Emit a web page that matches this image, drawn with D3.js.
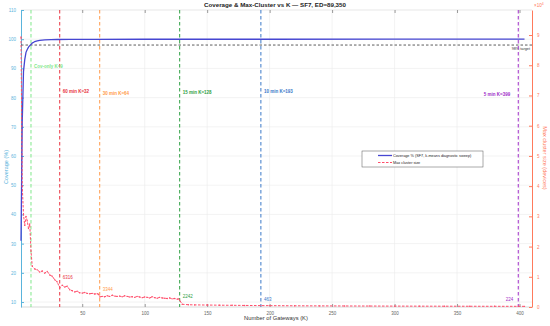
<!DOCTYPE html>
<html>
<head>
<meta charset="utf-8">
<script src="https://cdn.jsdelivr.net/npm/d3@7"></script>
<style>
  body { margin: 0; background: #fff; }
  svg { font-family: "Liberation Sans", Arial, sans-serif; }
</style>
</head>
<body>
<svg id="chart" width="550" height="326"></svg>
<script>
// coverage sweep (K, %)
var covK   = [1, 2, 3, 4, 5, 6, 7, 8, 9, 10, 11, 12, 14, 16, 18, 20, 25, 30, 40, 60, 100, 150, 200, 300, 404];
var covVal = [31, 72, 89, 93, 95.5, 96.5, 97.3, 97.8, 98.2, 98.7, 98.9, 99.2, 99.4, 99.6, 99.7, 99.75, 99.85, 99.9, 99.93, 99.96, 99.98, 99.99, 99.99, 100, 100];

// max cluster size (devices)
var maxK = [1, 2, 3, 4, 5, 6, 7, 8, 9, 10, 12, 14, 16, 18, 20, 22, 24, 26, 28, 30, 32, 34, 36, 38, 40,
            42, 44, 46, 48, 50, 52, 54, 56, 58, 60, 62, 63, 64, 66, 68, 70, 72, 74, 76, 78, 80,
            82, 84, 86, 88, 90, 92, 94, 96, 98, 100, 102, 104, 106, 108, 110, 112, 114, 116, 118,
            120, 122, 124, 126, 127, 128, 130, 135, 140, 150, 160, 170, 180, 193, 200, 220, 240,
            260, 280, 300, 320, 340, 360, 380, 399, 404];
var maxVal = [89350, 40000, 30500, 27000, 30000, 28500, 26000, 27500, 18500, 13500, 12600, 12300, 11600, 11900, 11200, 11800, 10600, 10200, 9000, 8300, 6316, 7200, 6600, 6900, 5700,
              5400, 5000, 5200, 4700, 4600, 4800, 4500, 4400, 4500, 4300, 4400, 4200, 3344, 3500, 3400, 3700, 3500, 3900, 3600, 3500, 3600,
              3400, 3700, 3500, 3300, 3400, 3200, 3500, 3300, 3100, 3300, 3200, 3000, 3400, 3100, 2900, 3200, 3000, 2900, 2800,
              3000, 2700, 2800, 2600, 2700, 2242, 900, 750, 700, 650, 600, 560, 520, 463, 450, 400, 370,
              340, 320, 300, 280, 265, 250, 235, 224, 220];

// operating points (vertical markers)
var markK     = [9, 32, 64, 128, 193, 399];
var markName  = ["Cov-only K=9", "60 min K=32", "30 min K=64", "15 min K=128", "10 min K=193", "5 min K=399"];
var markSize  = [null, 6316, 3344, 2242, 463, 224];
var markColor = ["#7fe88a", "#e8323f", "#ff9a4a", "#2ea043", "#3a78c8", "#a02ec8"];

var xTicks  = [50, 100, 150, 200, 250, 300, 350, 400];
var yTicks  = [10, 20, 30, 40, 50, 60, 70, 80, 90, 100, 110];
var y2Ticks = [0, 1, 2, 3, 4, 5, 6, 7, 8, 9];

var svg = d3.select("#chart");
var L = 21, R = 532, T = 10, B = 307;

var x  = d3.scaleLinear().domain([1, 410]).range([L, R]);
var y  = d3.scaleLinear().domain([8.3, 110]).range([B, T]);
var y2 = d3.scaleLinear().domain([0, 89350 * 1.1]).range([B, T]);

var blueAx = "#5ab4dc", redAx = "#ff7a5c";

// grid
svg.append("g").selectAll("line").data(xTicks).enter().append("line")
  .attr("x1", function(d) { return x(d); }).attr("x2", function(d) { return x(d); })
  .attr("y1", T).attr("y2", B).attr("stroke", "#ebebeb").attr("stroke-width", 0.6);
svg.append("g").selectAll("line").data(yTicks).enter().append("line")
  .attr("x1", L).attr("x2", R)
  .attr("y1", function(d) { return y(d); }).attr("y2", function(d) { return y(d); })
  .attr("stroke", "#ebebeb").attr("stroke-width", 0.6);

// frame top/bottom
svg.append("line").attr("x1", L).attr("x2", R).attr("y1", T).attr("y2", T).attr("stroke", "#e4e4e4").attr("stroke-width", 0.6);
svg.append("line").attr("x1", L).attr("x2", R).attr("y1", B).attr("y2", B).attr("stroke", "#bdbdbd").attr("stroke-width", 0.6);

// axes
var xAx = svg.append("g").attr("transform", "translate(0," + B + ")")
  .call(d3.axisBottom(x).tickValues(xTicks).tickSizeInner(-3).tickSizeOuter(0).tickPadding(5));
xAx.select(".domain").remove();
xAx.selectAll("line").attr("stroke", "#999");
xAx.selectAll("text").attr("fill", "#666").attr("font-size", 4.5);

var xTop = svg.append("g").attr("transform", "translate(0," + T + ")")
  .call(d3.axisTop(x).tickValues(xTicks).tickSizeInner(-3).tickSizeOuter(0).tickFormat(""));
xTop.select(".domain").remove();
xTop.selectAll("line").attr("stroke", "#999");

var yAx = svg.append("g").attr("transform", "translate(" + L + ",0)")
  .call(d3.axisLeft(y).tickValues(yTicks).tickSizeInner(-3).tickSizeOuter(0).tickPadding(5));
yAx.select(".domain").attr("stroke", blueAx);
yAx.selectAll("line").attr("stroke", blueAx);
yAx.selectAll("text").attr("fill", blueAx).attr("font-size", 4.5);

var y2Ax = svg.append("g").attr("transform", "translate(" + R + ",0)")
  .call(d3.axisRight(y2).tickValues(y2Ticks.map(function(d) { return d * 1e4; }))
    .tickFormat(function(d) { return d / 1e4; }).tickSizeInner(-3).tickSizeOuter(0).tickPadding(5));
y2Ax.select(".domain").attr("stroke", redAx);
y2Ax.selectAll("line").attr("stroke", redAx);
y2Ax.selectAll("text").attr("fill", redAx).attr("font-size", 4.5);

svg.append("text").attr("x", 534).attr("y", 7).attr("fill", redAx).attr("font-size", 4.5)
  .html("\u00d710<tspan dy='-2' font-size='3.5'>4</tspan>");

// 98% target
svg.append("line").attr("x1", L).attr("x2", R).attr("y1", y(98)).attr("y2", y(98))
  .attr("stroke", "#333").attr("stroke-width", 0.8).attr("stroke-dasharray", "2.5,2");
svg.append("text").attr("x", 530).attr("y", y(98) + 5).attr("text-anchor", "end")
  .attr("font-size", 3.8).attr("fill", "#333").text("98% target");

// vertical markers
svg.append("g").selectAll("line").data(markK).enter().append("line")
  .attr("x1", function(d) { return x(d); }).attr("x2", function(d) { return x(d); })
  .attr("y1", T).attr("y2", B)
  .attr("stroke", function(d, i) { return markColor[i]; })
  .attr("stroke-width", 1).attr("stroke-dasharray", "3.5,2.5");

var nameY = [68, 93, 95, 94, 93, 96];
svg.append("g").selectAll("text").data(markK).enter().append("text")
  .attr("x", function(d, i) { return i == 5 ? x(d) - 8 : x(d) + 3; })
  .attr("y", function(d, i) { return nameY[i]; })
  .attr("text-anchor", function(d, i) { return i == 5 ? "end" : "start"; })
  .attr("font-size", 4.5).attr("font-weight", "bold")
  .attr("fill", function(d, i) { return markColor[i]; })
  .text(function(d, i) { return markName[i]; });

// coverage line
svg.append("path").datum(covK)
  .attr("fill", "none").attr("stroke", "#4646d2").attr("stroke-width", 1.3)
  .attr("d", d3.line().x(function(d) { return x(d); }).y(function(d, i) { return y(covVal[i]); }));

// max cluster line
svg.append("path").datum(maxK)
  .attr("fill", "none").attr("stroke", "#ff4d6a").attr("stroke-width", 1)
  .attr("stroke-dasharray", "2.5,1.5")
  .attr("d", d3.line().x(function(d) { return x(d); }).y(function(d, i) { return y2(maxVal[i]); }));
svg.append("g").selectAll("circle").data(maxK).enter().append("circle")
  .attr("cx", function(d) { return x(d); })
  .attr("cy", function(d, i) { return y2(maxVal[i]); })
  .attr("r", 0.7).attr("fill", "#ff4d6a");

// size labels at markers
var sizeOff = [0, 10, 7, 4, 6, 7];
svg.append("g").selectAll("text").data(markK.slice(1)).enter().append("text")
  .attr("x", function(d, i) { return i == 4 ? x(d) - 5 : x(d) + 3; })
  .attr("y", function(d, i) { return y2(markSize[i + 1]) - sizeOff[i + 1] + 1.5; })
  .attr("text-anchor", function(d, i) { return i == 4 ? "end" : "start"; })
  .attr("font-size", 4.5)
  .attr("fill", function(d, i) { return markColor[i + 1]; })
  .text(function(d, i) { return markSize[i + 1]; });

// legend
var lg = svg.append("g").attr("transform", "translate(362,151)");
lg.append("rect").attr("width", 121).attr("height", 16)
  .attr("fill", "#fff").attr("stroke", "#555").attr("stroke-width", 0.5);
lg.append("line").attr("x1", 16).attr("x2", 30).attr("y1", 4.5).attr("y2", 4.5)
  .attr("stroke", "#4646d2").attr("stroke-width", 1.3);
lg.append("line").attr("x1", 16).attr("x2", 30).attr("y1", 11.5).attr("y2", 11.5)
  .attr("stroke", "#ff4d6a").attr("stroke-width", 1).attr("stroke-dasharray", "2.5,1.5");
lg.append("text").attr("x", 31).attr("y", 6).attr("font-size", 3.8).attr("fill", "#222")
  .text("Coverage % (SF7, k-means diagnostic sweep)");
lg.append("text").attr("x", 31).attr("y", 13).attr("font-size", 3.8).attr("fill", "#222")
  .text("Max cluster size");

// titles
svg.append("text").attr("x", 275).attr("y", 7).attr("text-anchor", "middle")
  .attr("font-size", 6.2).attr("font-weight", "bold").attr("fill", "#222")
  .text("Coverage & Max-Cluster vs K \u2014 SF7, ED=89,350");
svg.append("text").attr("x", 276).attr("y", 320).attr("text-anchor", "middle")
  .attr("font-size", 5.8).attr("fill", "#333").text("Number of Gateways (K)");
svg.append("text").attr("transform", "translate(8,167) rotate(-90)").attr("text-anchor", "middle")
  .attr("font-size", 5.5).attr("fill", blueAx).text("Coverage (%)");
svg.append("text").attr("transform", "translate(543,158) rotate(90)").attr("text-anchor", "middle")
  .attr("font-size", 5.5).attr("fill", redAx).text("Max cluster size (devices)");
</script>
</body>
</html>
